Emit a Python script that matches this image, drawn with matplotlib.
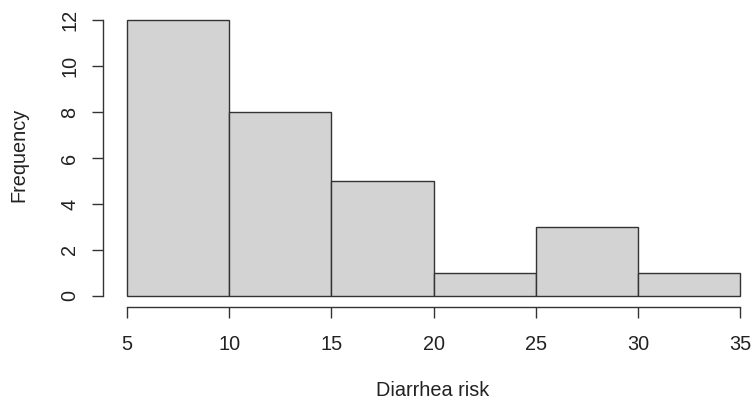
import numpy as np
import matplotlib.pyplot as plt

# histogram data
bin_edges = [5, 10, 15, 20, 25, 30, 35]
counts = [12, 8, 5, 1, 3, 1]
x_ticks = [5, 10, 15, 20, 25, 30, 35]
y_ticks = [0, 2, 4, 6, 8, 10, 12]

plt.rcParams.update({
    "font.family": ["Liberation Sans", "DejaVu Sans"],
    "font.size": 14.3,
    "text.color": "#222222",
    "xtick.color": "#333333",
    "ytick.color": "#333333",
    "xtick.labelcolor": "#222222",
    "ytick.labelcolor": "#222222",
})

fig = plt.figure(figsize=(7.53, 4.05), dpi=100)
ax = fig.add_axes([0.1363, 0.242, 0.879, 0.736])

edges = np.array(bin_edges)
ax.bar(edges[:-1], counts, width=np.diff(edges), align="edge",
       color="#d3d3d3", edgecolor="#333333", linewidth=1.0)

# R style: 4% extension, detached axes
xr = edges[-1] - edges[0]
ax.set_xlim(edges[0] - 0.04 * xr, edges[-1] + 0.04 * xr)
yr = max(y_ticks) - min(y_ticks)
ax.set_ylim(min(y_ticks) - 0.04 * yr, max(y_ticks) + 0.04 * yr)

for s in ["top", "right"]:
    ax.spines[s].set_visible(False)
ax.spines["bottom"].set_bounds(x_ticks[0], x_ticks[-1])
ax.spines["left"].set_bounds(y_ticks[0], y_ticks[-1])
for s in ["bottom", "left"]:
    ax.spines[s].set_color("#333333")
    ax.spines[s].set_linewidth(1.0)

ax.set_xticks(x_ticks)
ax.set_yticks(y_ticks)
ax.tick_params(axis="x", length=8, width=1.0, pad=12)
ax.tick_params(axis="y", length=8, width=1.0, pad=9)
for lab in ax.get_yticklabels():
    lab.set_rotation(90)
    lab.set_va("center")

fig.text(433 / 753, 1 - 391 / 405, "Diarrhea risk", ha="center", va="center")
fig.text(19 / 753, 1 - 155 / 405, "Frequency", ha="center", va="center",
         rotation=90)

fig.savefig("out.png", dpi=100)
